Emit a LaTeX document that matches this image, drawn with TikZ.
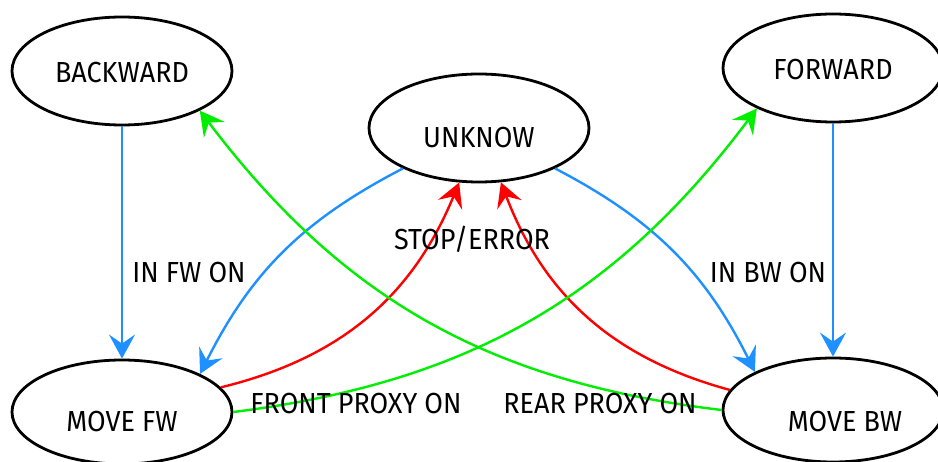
\documentclass[tikz,border=0pt]{standalone}
\usepackage{fontspec}
\setmainfont{Fira Sans}[FakeStretch=0.93]
\usepackage{tikz}
\usetikzlibrary{arrows.meta,positioning,shapes.geometric}
\definecolor{inblue}{HTML}{1E90FF}
\definecolor{proxy}{HTML}{00EE00}
\definecolor{stop}{HTML}{FF0000}

\begin{document}
\begin{tikzpicture}[x=1pt,y=1pt,
  font=\fontsize{29}{34}\selectfont,
  state/.style={draw,ellipse,line width=2.8pt,inner sep=0pt,minimum width=220pt,minimum height=108pt,text height=24pt,text depth=0pt},
  lowstate/.style={state,text height=40pt},
  lbl/.style={inner sep=0pt,text height=20pt,text depth=0pt},
  trans/.style={line width=2.4pt,-{Stealth[length=24pt,width=26pt,inset=9pt]}}]
  \useasboundingbox (0,0) rectangle (938,461);

  % States
  \node[state] (bwd) at (122,390) {BACKWARD};
  \node[state] (fwd) at (833,393) {FORWARD};
  \node[lowstate] (unk) at (479,333) {UNKNOW};
  \node[lowstate,minimum height=104pt] (mfw) at (122,49) {MOVE FW};
  \node[lowstate,minimum height=104pt,text height=44pt] (mbw) at (833,51) {\hspace*{24pt}MOVE BW};

  % Transitions
  \draw[trans,inblue] (bwd) -- (mfw);
  \draw[trans,inblue] (fwd) -- (mbw);
  \draw[trans,inblue] (unk.208) to[bend right=18] (mfw.26);
  \draw[trans,inblue] (unk.332) to[bend left=18] (mbw.154);
  \draw[trans,stop] (mfw.14) to[bend right=27] (unk.250);
  \draw[trans,stop] (mbw.169) to[bend left=27] (unk.292);
  \draw[trans,proxy] (mfw.east) to[bend right=23] (fwd.208);
  \draw[trans,proxy] (mbw.west) to[bend left=23] (bwd.333);

  % Labels
  \node[lbl] (infw) at (189,188) {IN FW ON};
  \node[lbl] (inbw) at (768,188) {IN BW ON};
  \node[lbl] (stoperr) at (472,221) {STOP/ERROR};
  \node[lbl] (front) at (356,58) {FRONT PROXY ON};
  \node[lbl] (rear) at (600,58) {REAR PROXY ON};
\end{tikzpicture}
\end{document}
